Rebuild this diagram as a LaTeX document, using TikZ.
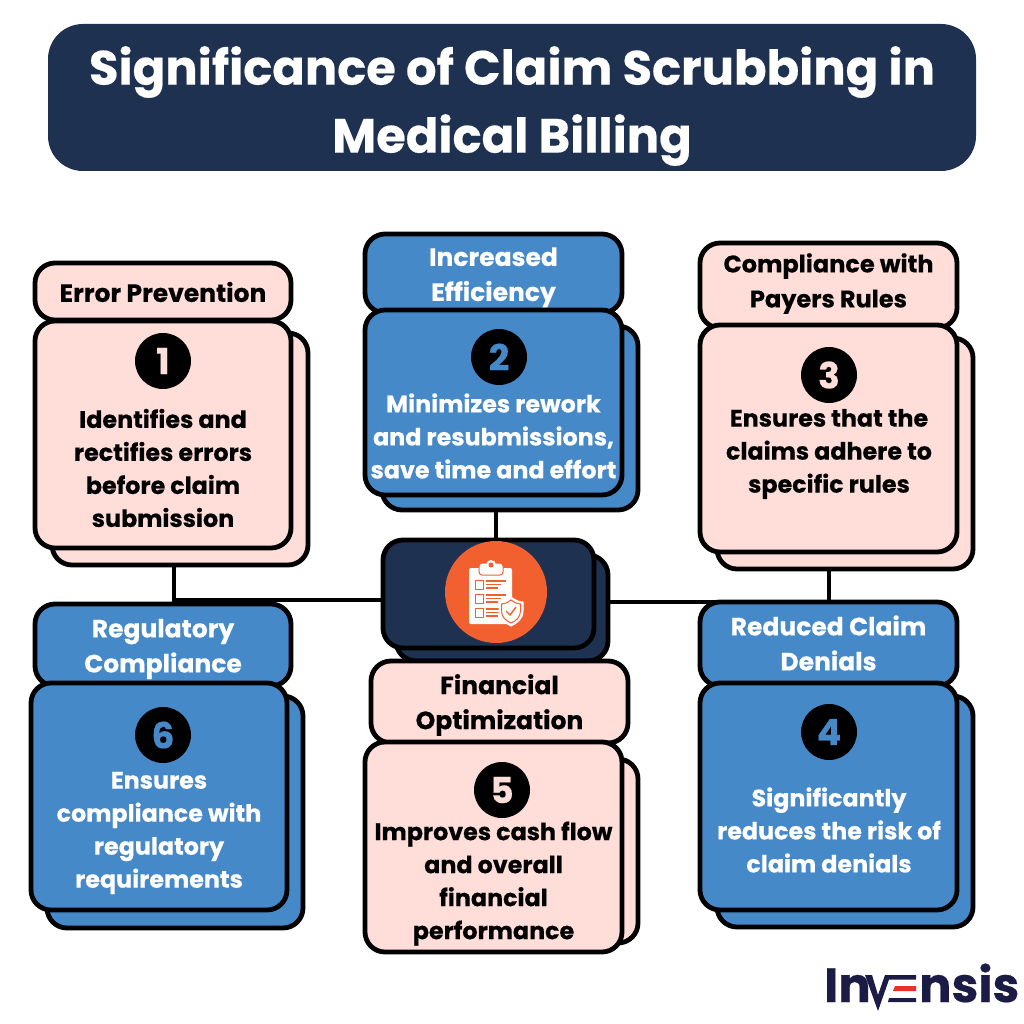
\documentclass[tikz,border=0pt]{standalone}
\usepackage{fontspec}
\setmainfont{Poppins}[BoldFeatures={FakeBold=0.4}]
\definecolor{navy}{HTML}{1F3150}
\definecolor{cardblue}{HTML}{4689C8}
\definecolor{cardpink}{HTML}{FFDDD9}
\definecolor{iconorange}{HTML}{F26030}
\definecolor{logonavy}{HTML}{1B1B45}
\definecolor{logored}{HTML}{E8302F}
\tikzset{
  card/.style={draw=black,line width=4.8pt,rounded corners=20pt,minimum width=256pt,inner sep=0pt,outer sep=0pt},
  pink card/.style={card,fill=cardpink},
  blue card/.style={card,fill=cardblue},
  head text/.style={align=center,inner sep=0pt,font=\fontsize{25}{35}\selectfont\bfseries},
  body text/.style={align=center,inner sep=0pt,font=\fontsize{23.8}{33}\selectfont\bfseries},
  badge/.style={circle,fill=black,minimum size=56pt,inner sep=0pt,font=\fontsize{36}{36}\selectfont\bfseries},
  link/.style={draw=black,line width=4pt}
}
\begin{document}
\begin{tikzpicture}[x=1pt,y=-1pt]
  \useasboundingbox (0,0) rectangle (1024,1024);
  \fill[white] (0,0) rectangle (1024,1024);

  % title
  \node[fill=navy,rounded corners=35pt,minimum width=928pt,minimum height=147pt,inner sep=0pt] (title) at (512,97.5) {};
  \node[inner sep=0pt,text=white,align=center,font=\fontsize{48}{68}\selectfont\bfseries] (titletext) at (512,106) {Significance of Claim Scrubbing in\\Medical Billing};

  % centre
  \node[card,fill=navy,minimum width=212pt,minimum height=106pt] (coreback) at (502,608) {};
  \node[card,fill=navy,minimum width=211pt,minimum height=108pt] (core) at (488.5,594) {};
  \node[circle,fill=iconorange,minimum size=102pt,inner sep=0pt] (iconbg) at (496,592) {};
  \fill[white,rounded corners=2pt] (469,568) rectangle (512,624);
  \fill[white,rounded corners=3pt,draw=iconorange,line width=1pt] (479,563) rectangle (503,575);
  \fill[white] (491,565) circle (5pt);
  \fill[iconorange] (491,565) circle (2.5pt);
  \foreach \rowy in {580,594,608}{
    \draw[iconorange,line width=1pt] (475,\rowy) rectangle ++(8,9);
    \draw[iconorange,line width=1.3pt] (486,\rowy+1) -- ++(20,0) (486,\rowy+4.5) -- ++(15,0) (486,\rowy+8) -- ++(12,0);
  }
  \draw[white,fill=white,line width=1pt] (511,597) .. controls (516,601) and (520,602) .. (523,602) -- (523,611) .. controls (523,619) and (517,623) .. (511,626) .. controls (505,623) and (499,619) .. (499,611) -- (499,602) .. controls (502,602) and (506,601) .. (511,597) -- cycle;
  \draw[iconorange,line width=1pt] (511,600) .. controls (515,603) and (518,604) .. (520.5,604) -- (520.5,611) .. controls (520.5,617) and (516,621) .. (511,623) .. controls (506,621) and (501.5,617) .. (501.5,611) -- (501.5,604) .. controls (504,604) and (507,603) .. (511,600) -- cycle;
  \draw[iconorange,line width=1.4pt] (506,611) -- (510,615) -- (516,607);

  % card 1
  \node[pink card,minimum height=232pt] (shadow1) at (180,449) {};
  \node[pink card,minimum height=57pt] (head1) at (163,291.5) {};
  \node[head text] (headtext1) at (163,292) {Error Prevention};
  \node[pink card,minimum height=227pt] (body1) at (163,434.5) {};
  \node[badge,text=cardpink] (num1) at (163,361) {1};
  \node[body text] (text1) at (163,468) {Identifies and\\rectifies errors\\before claim\\submission};

  % card 2
  \node[blue card,minimum height=184pt] (shadow2) at (510,418) {};
  \node[blue card,minimum width=257pt,minimum height=79pt] (head2) at (493.5,273.5) {};
  \node[head text,text=white] (headtext2) at (493.5,277.5) {Increased\\Efficiency};
  \node[blue card,minimum width=257pt,minimum height=185pt] (body2) at (493.5,402.5) {};
  \node[badge,text=cardblue] (num2) at (499,357) {2};
  \node[body text,text=white] (text2) at (493.5,436) {Minimizes rework\\and resubmissions,\\save time and effort};

  % card 3
  \node[pink card,minimum height=231pt] (shadow3) at (845,453.5) {};
  \node[pink card,minimum width=257pt,minimum height=85pt] (head3) at (828.5,285.5) {};
  \node[head text,font=\fontsize{24}{35}\selectfont\bfseries] (headtext3) at (828.5,283.5) {Compliance with\\Payers Rules};
  \node[pink card,minimum width=257pt,minimum height=227pt] (body3) at (828.5,438.5) {};
  \node[badge,text=cardpink] (num3) at (829,375) {3};
  \node[body text] (text3) at (829,454) {Ensures that the\\claims adhere to\\specific rules};

  % card 4
  \node[blue card,minimum height=231pt] (shadow4) at (845,811.5) {};
  \node[blue card,minimum width=257pt,minimum height=84pt] (head4) at (828.5,644) {};
  \node[head text,text=white] (headtext4) at (828.5,643) {Reduced Claim\\Denials};
  \node[blue card,minimum width=257pt,minimum height=227pt] (body4) at (828.5,796.5) {};
  \node[badge,text=cardblue] (num4) at (829,732) {4};
  \node[body text,text=white] (text4) at (829,830) {Significantly\\reduces the risk of\\claim denials};

  % card 5
  \node[pink card,minimum height=184pt] (shadow5) at (510,851) {};
  \node[pink card,minimum width=257pt,minimum height=82pt] (head5) at (499.5,702) {};
  \node[head text] (headtext5) at (499.5,705) {Financial\\Optimization};
  \node[pink card,minimum width=257pt,minimum height=210pt] (body5) at (493.5,847) {};
  \node[badge,text=cardpink] (num5) at (502,790) {5};
  \node[body text] (text5) at (493.5,883.5) {Improves cash flow\\and overall\\financial\\performance};

  % card 6
  \node[blue card,minimum height=232pt] (shadow6) at (175,812) {};
  \node[blue card,minimum height=82pt] (head6) at (163,645) {};
  \node[head text,text=white] (headtext6) at (163,649) {Regulatory\\Compliance};
  \node[blue card,minimum height=227pt] (body6) at (159,796.5) {};
  \node[badge,text=cardblue] (num6) at (163,735) {6};
  \node[body text,text=white] (text6) at (159,833) {Ensures\\compliance with\\regulatory\\requirements};

  % links
  \coordinate (joinL) at (174,600);
  \coordinate (joinT) at (496,525);
  \coordinate (joinR) at (829,602);
  \draw[link] (joinL |- shadow1.south) -- (joinL) -- (core.west |- joinL);
  \draw[link] (joinT |- shadow2.south) -- (joinT |- core.north);
  \draw[link] (joinR |- shadow3.south) -- (joinR) -- (coreback.east |- joinR);

  % logo
  \node[inner sep=0pt,anchor=base west,text=logonavy,font=\fontsize{48}{48}\selectfont\bfseries] (logoleft) at (824,1002) {In};
  \fill[logonavy] (865,975) -- (872,975) -- (878,995) -- (885,975) -- (916,975) -- (916,979.5) -- (889,979.5) -- (878,1011) -- cycle;
  \fill[logored] (895,986) -- (916,986) -- (916,991) -- (893,991) -- cycle;
  \fill[logonavy] (889,998) -- (916,998) -- (916,1002) -- (888,1002) -- cycle;
  \node[inner sep=0pt,anchor=base west,text=logonavy,font=\fontsize{48}{48}\selectfont\bfseries] (logoright) at (919,1002) {nsis};
\end{tikzpicture}
\end{document}
